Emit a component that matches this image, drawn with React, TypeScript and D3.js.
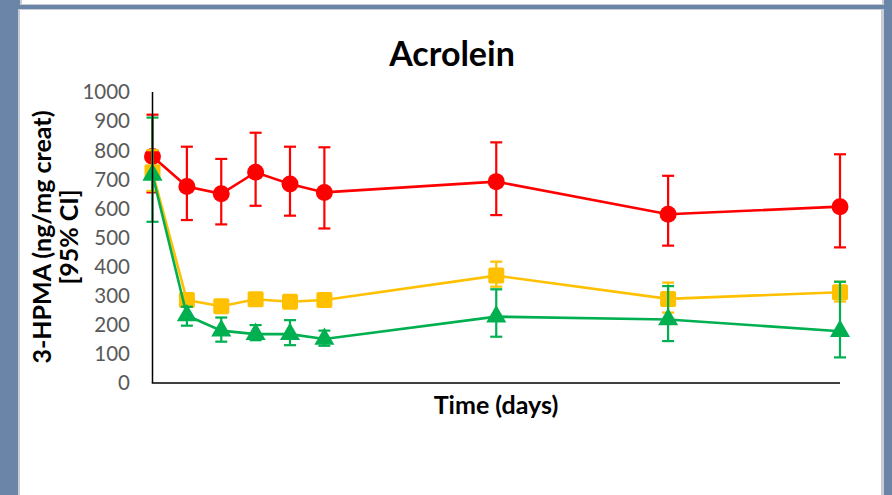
import React from 'react';
import * as d3 from 'd3';

// days sampled
const days = [0, 1, 2, 3, 4, 5, 10, 15, 20];

// red series (circles)
const redMean = [778, 675, 650, 724, 684, 655, 692, 580, 606];
const redLow = [655, 560, 545, 609, 575, 531, 577, 472, 466];
const redHigh = [922, 812, 770, 860, 812, 810, 827, 712, 786];

// orange series (squares)
const orangeMean = [724, 285, 264, 288, 279, 285, 369, 289, 312];
const orangeLow = [660, 270, 250, 275, 265, 272, 331, 242, 280];
const orangeHigh = [800, 300, 278, 300, 293, 298, 417, 345, 348];

// green series (triangles)
const greenMean = [715, 232, 180, 168, 168, 151, 228, 218, 178];
const greenLow = [554, 197, 142, 147, 130, 128, 159, 144, 88];
const greenHigh = [912, 262, 225, 199, 216, 180, 322, 333, 348];

const yTicks = [0, 100, 200, 300, 400, 500, 600, 700, 800, 900, 1000];

const FONT = 'Lato, Carlito, Calibri, sans-serif';

export default function App() {
  const W = 892;
  const H = 495;
  const x = d3.scaleLinear().domain([0, 20]).range([152.5, 840]);
  const y = d3.scaleLinear().domain([0, 1000]).range([383, 92]);

  const series = [
    { mean: redMean, low: redLow, high: redHigh, color: '#FF0000', shape: 'circle' },
    { mean: orangeMean, low: orangeLow, high: orangeHigh, color: '#FFC000', shape: 'square' },
    { mean: greenMean, low: greenLow, high: greenHigh, color: '#00B050', shape: 'triangle' },
  ];

  const line = d3
    .line<number>()
    .x((_, i) => x(days[i]))
    .y((d) => y(d));

  const tri = d3.symbol(d3.symbolTriangle, 175)() as string;

  return (
    <svg width={W} height={H} style={{ position: 'absolute', left: 0, top: 0 }}>
      {/* frame */}
      <rect x={0} y={0} width={W} height={H} fill="#6B85A9" />
      <rect x={20} y={0} width={864} height={5} fill="#C9CDD3" />
      <rect x={22} y={0} width={860} height={4} fill="#FFFFFF" />
      <rect x={18} y={9} width={866} height={H - 9} fill="#C9CDD3" />
      <rect x={20} y={10} width={861} height={H - 10} fill="#FFFFFF" />

      {/* title */}
      <text x={452} y={66} textAnchor="middle" fontFamily={FONT} fontWeight={700} fontSize={34} fill="#000">
        Acrolein
      </text>

      {/* y tick labels */}
      {yTicks.map((t) => (
        <text
          key={t}
          x={130}
          y={y(t)}
          dy="0.36em"
          textAnchor="end"
          fontFamily={FONT}
          fontSize={20.5}
          fill="#595959"
        >
          {t}
        </text>
      ))}

      {/* y axis title */}
      <g transform={`translate(51,237) rotate(-90)`}>
        <text x={0} y={0} textAnchor="middle" fontFamily={FONT} fontWeight={700} fontSize={25} fill="#000">
          3-HPMA (ng/mg creat)
        </text>
        <text x={0} y={27} textAnchor="middle" fontFamily={FONT} fontWeight={700} fontSize={25} fill="#000">
          [95% CI]
        </text>
      </g>

      {/* x axis title */}
      <text x={496} y={414} textAnchor="middle" fontFamily={FONT} fontWeight={700} fontSize={25} fill="#000">
        Time (days)
      </text>

      {/* series */}
      {series.map((s, si) => (
        <g key={si}>
          {days.map((d, i) => (
            <g key={i} stroke={s.color} strokeWidth={2.2}>
              <line x1={x(d)} x2={x(d)} y1={y(s.low[i])} y2={y(s.high[i])} />
              <line x1={x(d) - 6} x2={x(d) + 6} y1={y(s.low[i])} y2={y(s.low[i])} />
              <line x1={x(d) - 6} x2={x(d) + 6} y1={y(s.high[i])} y2={y(s.high[i])} />
            </g>
          ))}
          <path d={line(s.mean) as string} fill="none" stroke={s.color} strokeWidth={2.6} />
          {days.map((d, i) => {
            const cx = x(d);
            const cy = y(s.mean[i]);
            if (s.shape === 'circle') return <circle key={i} cx={cx} cy={cy} r={8.5} fill={s.color} />;
            if (s.shape === 'square')
              return <rect key={i} x={cx - 8} y={cy - 8} width={16} height={16} rx={2} fill={s.color} />;
            return <path key={i} d={tri} transform={`translate(${cx},${cy})`} fill={s.color} />;
          })}
        </g>
      ))}

      {/* axes */}
      <line x1={x(0)} x2={x(0)} y1={y(1000)} y2={y(0)} stroke="#000" strokeWidth={1.5} />
      <line x1={x(0) - 0.75} x2={x(20)} y1={y(0)} y2={y(0)} stroke="#000" strokeWidth={1.5} />
    </svg>
  );
}
